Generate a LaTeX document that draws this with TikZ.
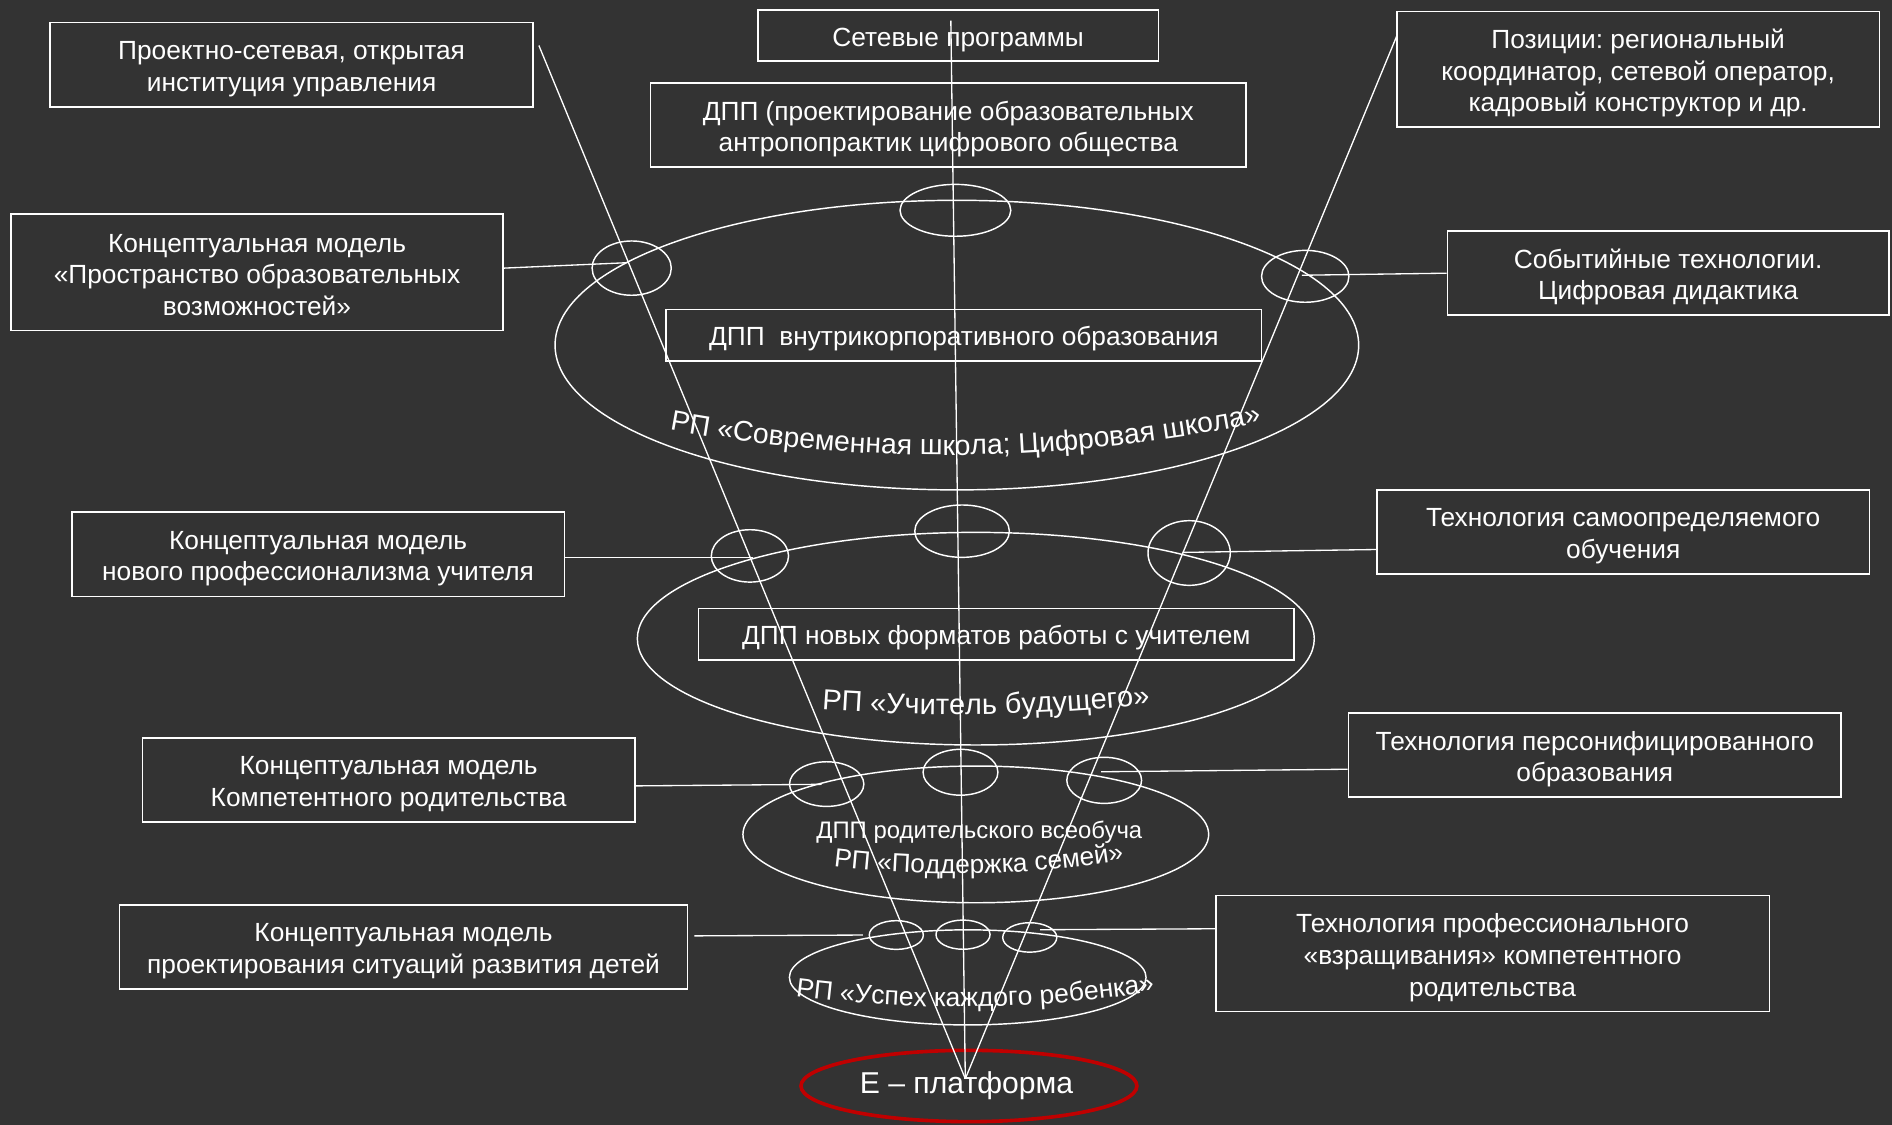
\documentclass[tikz,border=0pt]{standalone}
\usepackage{fontspec}
\setmainfont{Liberation Sans}
\usetikzlibrary{shapes.geometric,decorations.text}
\definecolor{bg}{RGB}{51,51,51}
\definecolor{epred}{RGB}{192,0,0}
\newcommand\boxfont{\fontsize{21.8}{26.2}\selectfont\frenchspacing}
\frenchspacing
\begin{document}
\begin{tikzpicture}[x=1pt,y=-1pt,
  lbox/.style={draw=white, line width=1.4pt, inner sep=0pt},
  btext/.style={text=white, align=center, inner sep=0pt, font=\boxfont},
  ring/.style={ellipse, draw=white, line width=1.2pt, inner sep=0pt},
  link/.style={draw=white, line width=1.1pt},
  arctext/.style={decorate, decoration={text along path, text align=center, text color=white, text={#1}}}
]
\fill[bg] (0,0) rectangle (1568,932);
\useasboundingbox (0,0) rectangle (1568,932);

% big ellipses
\node[ring, minimum width=666pt, minimum height=240pt] (E1) at (793,286) {};
\node[ring, minimum width=561pt, minimum height=176.2pt] (E2) at (808.7,529.3) {};
\node[ring, minimum width=386pt, minimum height=113.3pt] (E3) at (808.7,691.5) {};
\node[ring, minimum width=295.6pt, minimum height=78.8pt] (E4) at (802,810) {};
\node[ellipse, draw=epred, line width=3pt, inner sep=0pt, minimum width=278.4pt, minimum height=59.1pt] (EP) at (803,900) {};
\node[text=white, font=\fontsize{25}{30}\selectfont, anchor=base] (eptext) at (801,906) {Е – платформа};

% small junction ellipses
\node[ring, minimum width=65.6pt, minimum height=45pt] (s1L) at (523.5,222.2) {};
\node[ring, minimum width=91.8pt, minimum height=43pt] (s1C) at (791.8,174.3) {};
\node[ring, minimum width=72.4pt, minimum height=43pt] (s1R) at (1081.7,229) {};
\node[ring, minimum width=64pt, minimum height=43.4pt] (s2L) at (621.5,460.7) {};
\node[ring, minimum width=78.4pt, minimum height=43.4pt] (s2C) at (797.3,440.2) {};
\node[ring, minimum width=68.2pt, minimum height=53.6pt] (s2R) at (985.5,458.3) {};
\node[ring, minimum width=61.6pt, minimum height=37pt] (s3L) at (685.1,649.8) {};
\node[ring, minimum width=62pt, minimum height=38pt] (s3C) at (796,640) {};
\node[ring, minimum width=62pt, minimum height=38.2pt] (s3R) at (915.1,646.7) {};
\node[ring, minimum width=44.8pt, minimum height=23.8pt] (s4L) at (742.8,774.9) {};
\node[ring, minimum width=44.8pt, minimum height=24.2pt] (s4C) at (798.1,774.6) {};
\node[ring, minimum width=44.8pt, minimum height=24.4pt] (s4R) at (853.4,776.9) {};

% boxes (frame + text)
\node[lbox, minimum width=332pt, minimum height=42.8pt] (b1) at (794,29.4) {};
\node[lbox, minimum width=493.4pt, minimum height=69.8pt] (b2) at (785.9,103.5) {};
\node[lbox, minimum width=400.2pt, minimum height=69.8pt] (b3) at (241.6,53.6) {};
\node[lbox, minimum width=400.1pt, minimum height=95.9pt] (b4) at (1357.6,57.5) {};
\node[lbox, minimum width=408pt, minimum height=96.4pt] (b5) at (213,225.8) {};
\node[lbox, minimum width=365.7pt, minimum height=69.5pt] (b6) at (1382.5,226.4) {};
\node[lbox, minimum width=493.5pt, minimum height=42.8pt] (b7) at (798.8,277.8) {};
\node[lbox, minimum width=408.2pt, minimum height=69.8pt] (b8) at (263.6,459.4) {};
\node[lbox, minimum width=408.2pt, minimum height=69.8pt] (b9) at (1345.2,440.7) {};
\node[lbox, minimum width=493.4pt, minimum height=43pt] (b10) at (825.7,525.7) {};
\node[lbox, minimum width=408.2pt, minimum height=69.6pt] (b11) at (322.1,646.4) {};
\node[lbox, minimum width=408.2pt, minimum height=69.6pt] (b12) at (1321.7,625.6) {};
\node[lbox, minimum width=470.7pt, minimum height=69.8pt] (b13) at (334.4,784.9) {};
\node[lbox, minimum width=458.7pt, minimum height=96.3pt] (b14) at (1237,790.2) {};

\node[btext] (t1) at ([yshift=-3.5pt]b1.center) {Сетевые программы};
\node[btext] (t2) at ([yshift=-3.5pt]b2.center) {ДПП (проектирование образовательных\\антропопрактик цифрового общества};
\node[btext] (t3) at ([yshift=-3.5pt]b3.center) {Проектно-сетевая, открытая\\институция управления};
\node[btext] (t4) at ([yshift=-3pt]b4.center) {Позиции: региональный\\координатор, сетевой оператор,\\кадровый конструктор и др.};
\node[btext] (t5) at ([yshift=-2pt]b5.center) {Концептуальная модель\\«Пространство образовательных\\возможностей»};
\node[btext] (t6) at ([yshift=-3pt]b6.center) {Событийные технологии.\\Цифровая дидактика};
\node[btext] (t7) at ([yshift=-3pt]b7.center) {ДПП\ \ внутрикорпоративного образования};
\node[btext] (t8) at ([yshift=-3.5pt]b8.center) {Концептуальная модель\\нового профессионализма учителя};
\node[btext] (t9) at ([yshift=-3.5pt]b9.center) {Технология самоопределяемого\\обучения};
\node[btext] (t10) at ([yshift=-3pt]b10.center) {ДПП новых форматов работы с учителем};
\node[btext] (t11) at ([yshift=-3.5pt]b11.center) {Концептуальная модель\\Компетентного родительства};
\node[btext] (t12) at ([yshift=-3.5pt]b12.center) {Технология персонифицированного\\образования};
\node[btext] (t13) at ([yshift=-3.5pt]b13.center) {Концептуальная модель\\проектирования ситуаций развития детей};
\node[btext] (t14) at ([yshift=-3.5pt]b14.center) {Технология профессионального\\«взращивания» компетентного\\родительства};

% text in ellipse 3
\node[text=white, font=\fontsize{19.8}{24}\selectfont, anchor=base] (dpprod) at (811.6,694.8) {ДПП родительского всеобуча};

% curved texts
\path[arctext={|\fontsize{23.5}{28}\selectfont|РП «Современная школа; Цифровая школа»}] (510,347) .. controls (703.3,390) and (896.7,386.3) .. (1090,340);
\path[arctext={|\fontsize{24}{28}\selectfont|РП «Учитель будущего»}] (642,584.6) .. controls (758.7,596.1) and (875.3,594.4) .. (992,579.5);
\path[arctext={|\fontsize{21.7}{26}\selectfont|РП «Поддержка семей»}] (651,712.4) .. controls (757.7,729.8) and (864.3,727.6) .. (971,705.8);
\path[arctext={|\fontsize{22}{26}\selectfont|РП «Успех каждого ребенка»}] (618,819.8) .. controls (744.7,840.9) and (871.3,839.1) .. (998,814.6);

% long converging lines
\coordinate (conv) at (800,894);
\coordinate (topL) at (446.6,37.7);
\coordinate (topC) at (788,17);
\coordinate (topR) at (1157.6,29.7);
\draw[link] (topL) -- (conv);
\draw[link] (topC) -- (conv);
\draw[link] (topR) -- (conv);

% short connectors
\coordinate (k5) at (520,217.7);
\coordinate (k6) at (1079,228.1);
\coordinate (k8) at (624.2,462.2);
\coordinate (k9) at (980,457.8);
\coordinate (k11) at (681,650);
\coordinate (k12) at (912.5,639.6);
\coordinate (k13) at (715,774.9);
\coordinate (k14) at (862,770.5);
\draw[link] ([yshift=3.6pt]b5.east) -- (k5);
\draw[link] (b6.west) -- (k6);
\draw[link] ([yshift=-2.8pt]b8.east) -- (k8);
\draw[link] ([yshift=-14.7pt]b9.west) -- (k9);
\draw[link] ([yshift=-4.9pt]b11.east) -- (k11);
\draw[link] ([yshift=-11.9pt]b12.west) -- (k12);
\draw[link] ([xshift=5pt,yshift=9.3pt]b13.east) -- (k13);
\draw[link] ([yshift=20.5pt]b14.west) -- (k14);
\end{tikzpicture}
\end{document}
